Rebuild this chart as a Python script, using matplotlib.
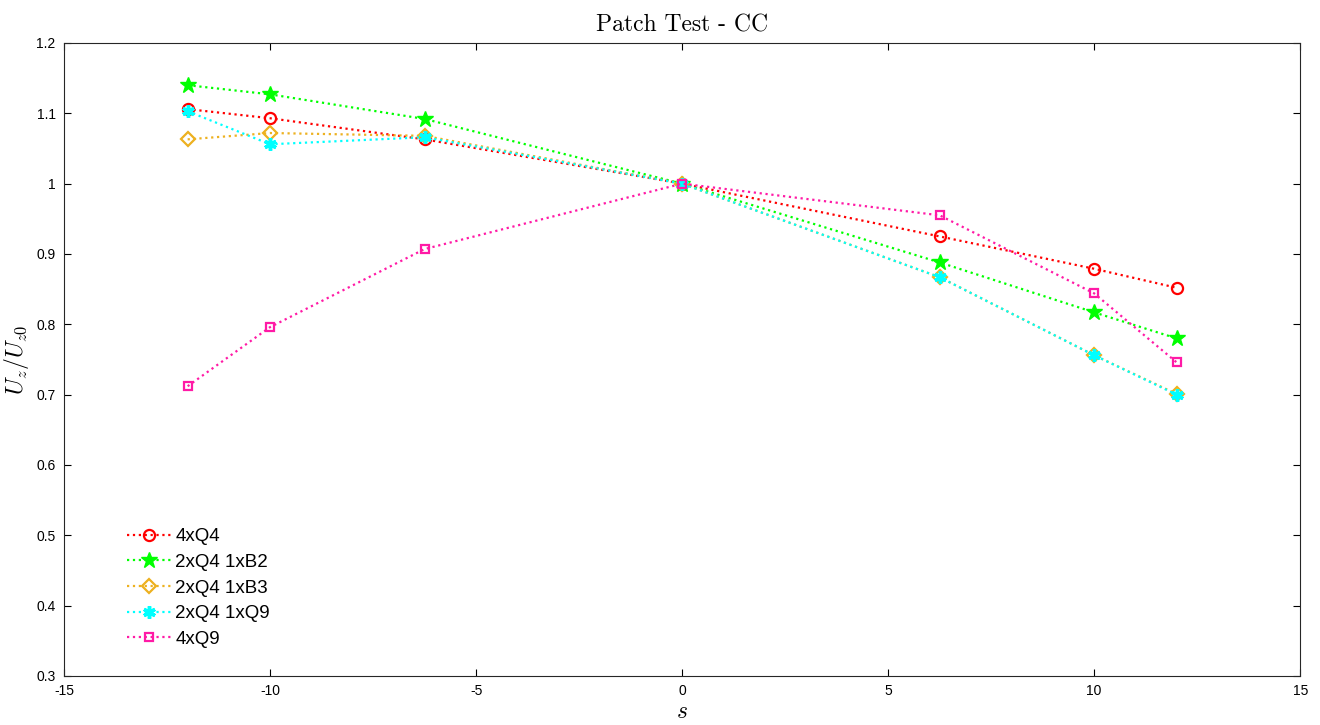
import matplotlib
matplotlib.use("Agg")
import matplotlib.pyplot as plt

s = [-12, -10, -6.25, 0, 6.25, 10, 12]
labels = ["4xQ4", "2xQ4 1xB2", "2xQ4 1xB3", "2xQ4 1xQ9", "4xQ9"]
u_4xQ4 = [1.106, 1.093, 1.063, 1.0, 0.925, 0.879, 0.852]
u_B2 = [1.140, 1.127, 1.092, 1.0, 0.888, 0.817, 0.780]
u_B3 = [1.063, 1.072, 1.068, 1.0, 0.867, 0.756, 0.701]
u_Q9 = [1.103, 1.056, 1.066, 1.0, 0.867, 0.756, 0.700]
u_4xQ9 = [0.712, 0.796, 0.907, 1.0, 0.955, 0.844, 0.746]
xticks = [-15, -10, -5, 0, 5, 10, 15]
yticks = [0.3, 0.4, 0.5, 0.6, 0.7, 0.8, 0.9, 1.0, 1.1, 1.2]

plt.rcParams['font.family'] = ['Liberation Sans', 'DejaVu Sans']
plt.rcParams['mathtext.fontset'] = 'cm'
plt.rcParams['axes.unicode_minus'] = False

fig = plt.figure(figsize=(13.2, 7.25), dpi=100)
ax = fig.add_axes([0.0485, 0.0676, 0.9365, 0.8731])

styles = [
    dict(color='#ff0000', marker='o', mfc='none', ms=8, mew=1.6),
    dict(color='#00ff00', marker='*', mfc='#00ff00', ms=12, mew=1.0),
    dict(color='#edb120', marker='D', mfc='none', ms=7, mew=1.6),
    dict(color='#00ffff', marker=(6, 2, 0), mfc='#00ffff', ms=9, mew=2.5),
    dict(color='#ff1aa6', marker='s', mfc='none', ms=6, mew=1.6),
]
series = [u_4xQ4, u_B2, u_B3, u_Q9, u_4xQ9]
for y, lab, st in zip(series, labels, styles):
    ax.plot(s, y, linestyle=':', linewidth=1.6, label=lab, **st)

ax.set_xlim(-15, 15)
ax.set_ylim(0.3, 1.2)
ax.set_xticks(xticks)
ax.set_yticks(yticks)
ax.set_yticklabels(['0.3', '0.4', '0.5', '0.6', '0.7', '0.8', '0.9', '1', '1.1', '1.2'])
ax.tick_params(direction='in', labelsize=10, length=5, top=True, right=True, pad=6)
for sp in ax.spines.values():
    sp.set_linewidth(0.8)
    sp.set_color('#262626')

ax.set_xlabel(r'$s$', fontsize=17, labelpad=2)
ax.set_ylabel(r'$U_z/U_{z0}$', fontsize=17, labelpad=4)
ax.set_title('Patch Test - CC', fontfamily='cmr10', fontsize=17, pad=8)

ax.legend(loc='lower left', bbox_to_anchor=(0.037, 0.018), frameon=False, fontsize=13.5,
          handlelength=2.4, labelspacing=0.45, handletextpad=0.2)

fig.savefig('out.png', dpi=100)
